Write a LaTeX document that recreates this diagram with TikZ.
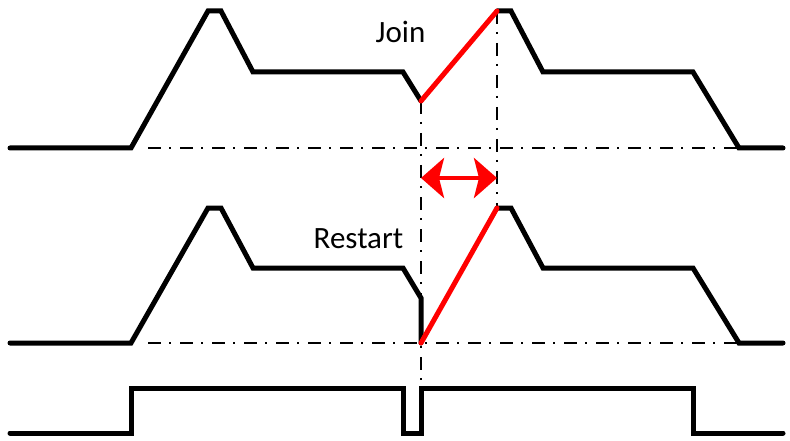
\documentclass[tikz,border=0pt]{standalone}
\usepackage{fontspec}
\setmainfont{Carlito}
\usetikzlibrary{arrows.meta}
\begin{document}
\begin{tikzpicture}[x=1pt, y=-1pt,
    sig/.style = {line width=5pt, line cap=round},
    act/.style = {sig, color=red},
    guide/.style = {line width=1.3pt, dash pattern=on 13pt off 8pt on 2pt off 9pt},
    gap/.style = {red, line width=4.5pt, {Stealth[length=23pt 0 0, width=40pt 0, inset=5pt 0]}-{Stealth[length=23pt 0 0, width=40pt 0, inset=5pt 0]}},
    lbl/.style = {font=\fontsize{31}{36}\selectfont, anchor=base, inner sep=0pt}]
  \useasboundingbox (0,0) rectangle (790,441);
  \coordinate (j1) at (421,101);
  \coordinate (j2) at (497,11);
  \coordinate (r1) at (421,343);
  \coordinate (r2) at (497,208);
  \coordinate (p1) at (421,388);
  \coordinate (a1) at (421,178);
  \coordinate (a2) at (497,178);
  % guide lines
  \draw[guide] (148,148) -- (738,148);
  \draw[guide] (148,343) -- (738,343);
  \draw[guide] (j1) -- (p1);
  \draw[guide] (j2) -- (r2);
  % join
  \draw[sig] (10,148) -- (131,148) -- (208,11) -- (221,11) -- (253,72) -- (403,72) -- (j1);
  \draw[sig] (j2) -- (511,11) -- (543,72) -- (693,72) -- (739,148) -- (783,148);
  \draw[act] (j1) -- (j2);
  % restart
  \draw[sig] (10,343) -- (131,343) -- (208,208) -- (221,208) -- (253,268) -- (403,268) -- (421,298) -- (r1);
  \draw[sig] (r2) -- (511,208) -- (543,268) -- (693,268) -- (739,343) -- (783,343);
  \draw[act] (r1) -- (r2);
  % pulse
  \draw[sig] (10,433) -- (131,433) -- (131,388) -- (403,388) -- (403,433) -- (421,433) -- (p1) -- (693,388) -- (693,433) -- (783,433);
  \draw[gap] (a1) -- (a2);
  \node[lbl] (join) at (400.5,43) {Join};
  \node[lbl] (restart) at (358.5,248) {Restart};
\end{tikzpicture}
\end{document}
